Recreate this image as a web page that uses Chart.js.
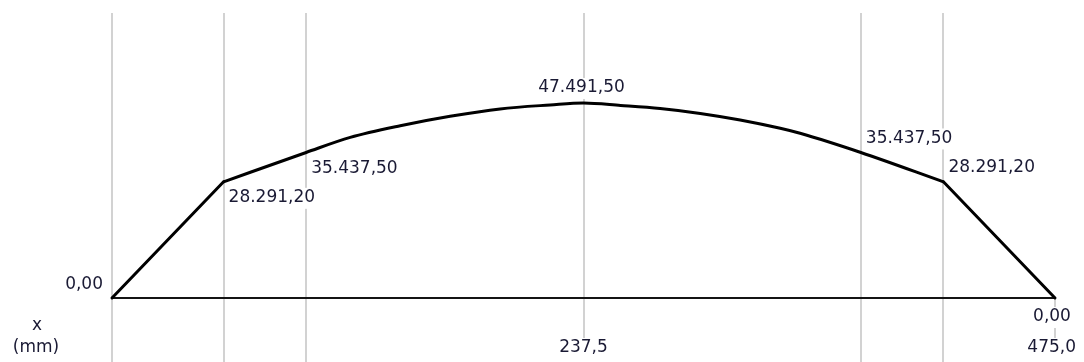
<!DOCTYPE html>
<html>
<head>
<meta charset="utf-8">
<title>Momento fletor</title>
<script src="https://cdn.jsdelivr.net/npm/chart.js@4/dist/chart.umd.min.js"></script>
<style>
  html, body { margin: 0; padding: 0; background: #ffffff; }
  #wrap { width: 1084px; height: 362px; }
</style>
</head>
<body>
<div id="wrap"><canvas id="c" width="1084" height="362"></canvas></div>
<script>
// Bending moment along the beam, x in mm
const xMm = [0, 56.2, 97.8, 120.0, 145.2, 170.3, 195.5, 220.7, 237.5, 256.2, 276.1, 296.3, 316.4, 336.6, 346.6, 377.2, 418.8, 475];
const moment = [0, 28291.2, 35437.5, 39100, 41950, 44250, 46050, 47010, 47491.5, 46900, 46150, 44950, 43350, 41330, 40113, 35437.5, 28291.2, 0];

// Indices where the diagram has a sharp corner (end of the loaded span)
const cornerIdx = [1, 16];

// Points whose value is written next to the curve
const labelledIdx = [0, 1, 2, 8, 15, 16, 17];
// Vertical guide lines and the x positions that carry a tick label
const gridX = [0, 56.2, 97.8, 237.5, 377.2, 418.8, 475];
const tickX = [237.5, 475];
const axisTitle = ['x', '(mm)'];

// Where each value label sits relative to its point
const labelPlacement = ['left', 'belowRight', 'belowRight', 'above', 'aboveRight', 'aboveRight', 'below'];

const FONT = '17px "DejaVu Sans", Verdana, sans-serif';
const TEXT_COLOR = '#1a1a34';

function fmt(v, decimals) {
  const neg = v < 0;
  const s = Math.abs(v).toFixed(decimals);
  const parts = s.split('.');
  const intPart = parts[0].replace(/\B(?=(\d{3})+(?!\d))/g, '.');
  return (neg ? '-' : '') + intPart + (decimals > 0 ? ',' + parts[1] : '');
}

function textBox(ctx, text, left, cy, bottomTo) {
  const w = ctx.measureText(text).width;
  ctx.fillStyle = '#ffffff';
  const top = cy - 10;
  const h = bottomTo != null ? bottomTo - top : 21;
  ctx.fillRect(left - 1, top, w + 2, h);
  ctx.fillStyle = TEXT_COLOR;
  ctx.fillText(text, left, cy);
  return w;
}

const diagramPlugin = {
  id: 'diagram',
  beforeDatasetsDraw(chart) {
    const ctx = chart.ctx;
    const xs = chart.scales.x;
    const ys = chart.scales.y;
    const area = chart.chartArea;
    const y0 = ys.getPixelForValue(0);
    ctx.save();
    // vertical guides
    ctx.strokeStyle = '#d2d2d2';
    ctx.lineWidth = 2;
    gridX.forEach((v, i) => {
      const px = Math.round(xs.getPixelForValue(v));
      const top = (i === gridX.length - 1) ? y0 : area.top;
      ctx.beginPath();
      ctx.moveTo(px, top);
      ctx.lineTo(px, chart.height);
      ctx.stroke();
    });
    // zero line
    ctx.strokeStyle = '#141414';
    ctx.lineWidth = 2;
    ctx.beginPath();
    ctx.moveTo(xs.getPixelForValue(0), y0);
    ctx.lineTo(xs.getPixelForValue(475), y0);
    ctx.stroke();
    ctx.restore();
  },
  afterDatasetsDraw(chart) {
    const ctx = chart.ctx;
    const xs = chart.scales.x;
    const ys = chart.scales.y;
    ctx.save();
    ctx.font = FONT;
    ctx.textBaseline = 'middle';
    ctx.textAlign = 'left';

    // value labels along the curve
    labelledIdx.forEach((idx, k) => {
      const px = xs.getPixelForValue(xMm[idx]);
      const py = ys.getPixelForValue(moment[idx]);
      const text = fmt(moment[idx], 2);
      const w = ctx.measureText(text).width;
      let left, cy;
      switch (labelPlacement[k]) {
        case 'left': left = px - 9 - w; cy = py - 13; break;
        case 'belowRight': left = px + 5; cy = py + 16; break;
        case 'above': left = px - 2 - w / 2; cy = py - 15; break;
        case 'aboveRight': left = px + 5; cy = py - 14; break;
        case 'below': left = px - 3 - w / 2; cy = py + 19; break;
      }
      textBox(ctx, text, left, cy);
    });

    // tick labels on the x axis
    tickX.forEach((v) => {
      const px = xs.getPixelForValue(v);
      const text = fmt(v, 1);
      const w = ctx.measureText(text).width;
      let left = px - w / 2;
      if (left + w > chart.width - 8) left = chart.width - 8 - w;
      textBox(ctx, text, left, 348, chart.height);
    });

    // axis title
    ctx.textAlign = 'center';
    ctx.fillStyle = TEXT_COLOR;
    ctx.fillText(axisTitle[0], 37, 326);
    ctx.fillText(axisTitle[1], 36, 348);
    ctx.restore();
  }
};

// Straight end segments, smooth curve over the loaded span
function piece(from, to, smooth) {
  const pts = [];
  for (let i = from; i <= to; i++) pts.push({ x: xMm[i], y: moment[i] });
  return {
    data: pts,
    showLine: true,
    borderColor: '#000000',
    borderWidth: 3,
    borderCapStyle: 'round',
    borderJoinStyle: 'round',
    pointRadius: 0,
    cubicInterpolationMode: smooth ? 'monotone' : 'default',
    tension: 0,
    clip: false
  };
}

new Chart(document.getElementById('c'), {
  type: 'scatter',
  data: {
    datasets: [
      piece(0, cornerIdx[0], false),
      piece(cornerIdx[0], cornerIdx[1], true),
      piece(cornerIdx[1], xMm.length - 1, false)
    ]
  },
  options: {
    responsive: false,
    animation: false,
    devicePixelRatio: 1,
    layout: { padding: { left: 112, right: 29, top: 13, bottom: 64 } },
    plugins: { legend: { display: false }, tooltip: { enabled: false } },
    scales: {
      x: { type: 'linear', min: 0, max: 475, display: false },
      y: { type: 'linear', min: 0, max: 69400, display: false }
    }
  },
  plugins: [diagramPlugin]
});
</script>
</body>
</html>
